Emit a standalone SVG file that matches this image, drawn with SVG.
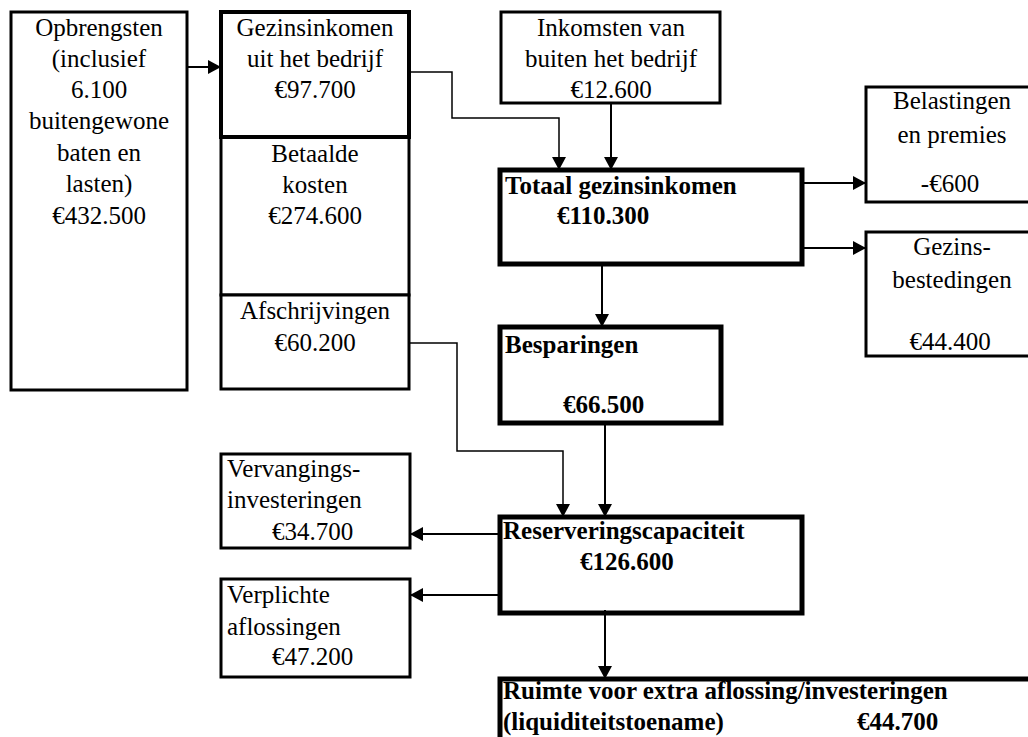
<svg xmlns="http://www.w3.org/2000/svg" width="1028" height="737" viewBox="0 0 1028 737" font-family="'Liberation Serif', 'Times New Roman', serif">
<defs>
<marker id="ah" markerUnits="userSpaceOnUse" markerWidth="13" markerHeight="14" refX="13" refY="7" orient="auto">
<path d="M0,0 L13,7 L0,14 z" fill="#000"/>
</marker>
<style>
.box{fill:#fff;stroke:#000;stroke-width:3}
.thick{fill:#fff;stroke:#000;stroke-width:5}
text{font-family:'Liberation Serif','Times New Roman',serif;font-size:25px;fill:#000}
.c{text-anchor:middle}
.b{font-weight:bold}
.con{fill:none;stroke:#000;stroke-width:2;marker-end:url(#ah)}
.con2{fill:none;stroke:#000;stroke-width:1.5;marker-end:url(#ah)}
</style>
</defs>
<rect width="1028" height="737" fill="#fff"/>

<g id="opbrengsten">
<rect class="box" x="11" y="12" width="176" height="378"/>
<text class="c" x="99" y="36">Opbrengsten</text>
<text class="c" x="99" y="67">(inclusief</text>
<text class="c" x="99" y="98">6.100</text>
<text class="c" x="99" y="129">buitengewone</text>
<text class="c" x="99" y="161">baten en</text>
<text class="c" x="99" y="192">lasten)</text>
<text class="c" x="99" y="224">€432.500</text>
</g>

<g id="betaalde-kosten">
<rect class="box" x="221" y="137" width="188" height="158"/>
<text class="c" x="315" y="162">Betaalde</text>
<text class="c" x="315" y="193">kosten</text>
<text class="c" x="315" y="224">€274.600</text>
</g>

<g id="afschrijvingen">
<rect class="box" x="221" y="295" width="188" height="94"/>
<text class="c" x="315" y="319">Afschrijvingen</text>
<text class="c" x="315" y="351">€60.200</text>
</g>

<g id="gezinsinkomen-bedrijf">
<rect class="thick" x="221" y="12" width="188" height="125" style="stroke-width:4"/>
<text class="c" x="315" y="36">Gezinsinkomen</text>
<text class="c" x="315" y="67">uit het bedrijf</text>
<text class="c" x="315" y="98">€97.700</text>
</g>

<g id="inkomsten-buiten">
<rect class="box" x="501" y="12" width="219" height="91"/>
<text class="c" x="611" y="36">Inkomsten van</text>
<text class="c" x="611" y="67">buiten het bedrijf</text>
<text class="c" x="611" y="98">€12.600</text>
</g>

<g id="totaal-gezinsinkomen">
<rect class="thick" x="500" y="170" width="302" height="94"/>
<text class="b" x="505" y="194">Totaal gezinsinkomen</text>
<text class="b" x="557" y="224">€110.300</text>
</g>

<g id="belastingen">
<rect class="box" x="866" y="87" width="200" height="115"/>
<text class="c" x="952" y="109">Belastingen</text>
<text class="c" x="952" y="143">en premies</text>
<text class="c" x="950" y="192">-€600</text>
</g>

<g id="gezinsbestedingen">
<rect class="box" x="866" y="232" width="200" height="124"/>
<text class="c" x="952" y="255">Gezins-</text>
<text class="c" x="952" y="288">bestedingen</text>
<text class="c" x="950" y="350">€44.400</text>
</g>

<g id="besparingen">
<rect class="thick" x="500" y="327" width="221" height="96"/>
<text class="b" x="505" y="353">Besparingen</text>
<text class="b" x="563" y="413">€66.500</text>
</g>

<g id="vervangingsinvesteringen">
<rect class="box" x="221" y="454" width="189" height="94"/>
<text x="227" y="477">Vervangings-</text>
<text x="227" y="508">investeringen</text>
<text x="272" y="540">€34.700</text>
</g>

<g id="verplichte-aflossingen">
<rect class="box" x="221" y="579" width="189" height="98"/>
<text x="227" y="603">Verplichte</text>
<text x="227" y="635">aflossingen</text>
<text x="272" y="665">€47.200</text>
</g>

<g id="reserveringscapaciteit">
<rect class="thick" x="500" y="517" width="302" height="96"/>
<text class="b" x="503" y="539">Reserveringscapaciteit</text>
<text class="b" x="580" y="570">€126.600</text>
</g>

<g id="ruimte">
<rect class="thick" x="500" y="679" width="600" height="100"/>
<text class="b" x="503" y="699">Ruimte voor extra aflossing/investeringen</text>
<text class="b" x="503" y="730">(liquiditeitstoename)</text>
<text class="b" x="857" y="730">€44.700</text>
</g>

<g id="connectors">
<path class="con" d="M187,67 H221"/>
<path class="con2" d="M409,72 H452 V118 H559 V170"/>
<path class="con" d="M611,103 V170"/>
<path class="con" d="M802,183 H866"/>
<path class="con" d="M802,248 H866"/>
<path class="con" d="M602,262 V327"/>
<path class="con2" d="M409,343 H457 V451 H563 V517"/>
<path class="con" d="M605,423 V517"/>
<path class="con" d="M500,534 H410"/>
<path class="con" d="M500,595 H410"/>
<path class="con" d="M605,610 V679"/>
</g>
</svg>
